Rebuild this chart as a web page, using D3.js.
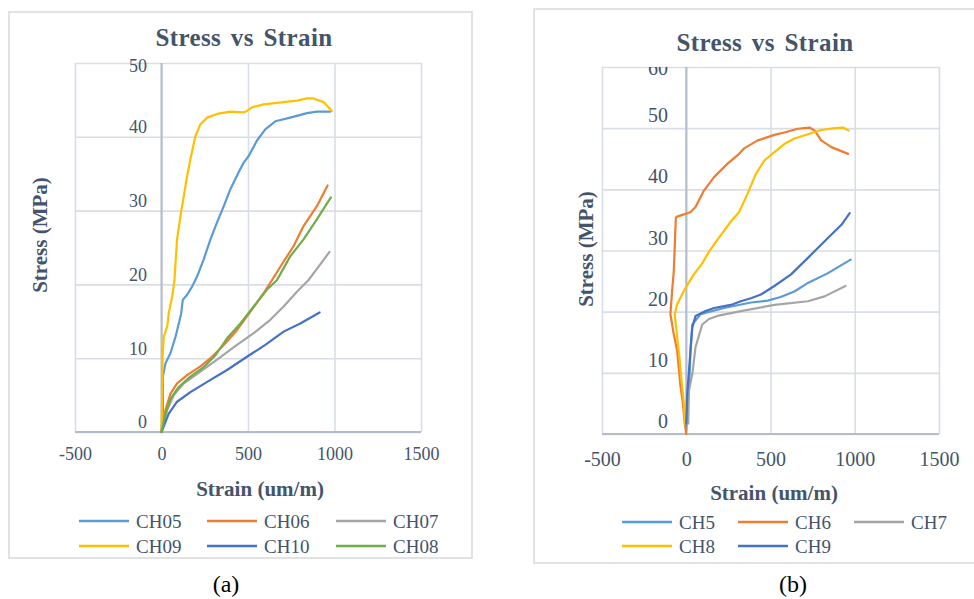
<!DOCTYPE html>
<html>
<head>
<meta charset="utf-8">
<script src="https://cdn.jsdelivr.net/npm/d3@7/dist/d3.min.js"></script>
<style>
  html, body { margin: 0; padding: 0; background: #ffffff; }
  svg { display: block; }
  svg text { font-family: "Liberation Serif", "DejaVu Serif", "Times New Roman", Times, serif; }
</style>
</head>
<body>
<svg id="fig" width="974" height="599"></svg>
<script>
// ---- shared axis ticks ----
const strainTicks = [-500, 0, 500, 1000, 1500];
const stressTicksA = [0, 10, 20, 30, 40, 50];
const stressTicksB = [0, 10, 20, 30, 40, 50, 60];

// ---- panel (a): channel readings [strain (um/m), stress (MPa)] ----
const seriesNamesA = ["CH05", "CH06", "CH07", "CH09", "CH10", "CH08"];
const ch05 = [[0,0],[8,3],[8,7.5],[23,9.3],[52,10.7],[81,12.9],[100,14.7],[114,16.1],[123,17.9],[148,18.6],[177,19.7],[206,21.1],[244,23.4],[283,26.1],[321,28.4],[360,30.6],[398,32.9],[446,35.2],[475,36.5],[504,37.4],[552,39.5],[600,41.0],[658,42.1],[744,42.6],[841,43.2],[898,43.4],[975,43.4]];
const ch06 = [[0,0],[23,3.0],[52,5.2],[90,6.6],[148,7.7],[225,8.9],[292,10.2],[360,11.8],[436,13.8],[514,16.3],[590,18.8],[639,20.6],[706,23.1],[764,25.2],[821,27.9],[898,30.6],[960,33.4]];
const ch07 = [[0,0],[33,3.0],[71,5.0],[129,6.6],[225,8.2],[321,9.8],[436,11.8],[533,13.4],[629,15.2],[706,17.0],[783,19.0],[850,20.6],[908,22.4],[971,24.4]];
const ch09 = [[0,0],[4,5],[6,10],[13,12.9],[33,14.3],[42,16.1],[62,18.4],[75,20.6],[81,22.9],[90,26.1],[110,29.3],[129,32.0],[148,34.7],[171,37.4],[196,40.1],[225,41.7],[264,42.6],[321,43.1],[398,43.4],[475,43.3],[494,43.5],[523,44.0],[590,44.4],[706,44.7],[783,44.9],[841,45.2],[879,45.2],[937,44.7],[985,43.5]];
const ch10 = [[0,0],[42,2.5],[90,4.1],[167,5.4],[264,6.8],[379,8.4],[494,10.2],[600,11.8],[706,13.6],[802,14.7],[914,16.2]];
const ch08 = [[0,0],[23,2.5],[52,4.5],[100,6.1],[167,7.5],[244,8.8],[312,10.4],[379,12.7],[456,14.7],[533,17.0],[610,19.3],[668,20.6],[744,23.8],[821,26.1],[898,28.8],[979,31.8]];

// ---- panel (b): channel readings [strain (um/m), stress (MPa)] ----
const seriesNamesB = ["CH5", "CH6", "CH7", "CH8", "CH9"];
const ch5 = [[0,0.5],[5,3],[16,7.1],[26,14.2],[36,17.9],[85,19.6],[224,20.6],[384,21.5],[483,21.8],[560,22.4],[642,23.3],[722,24.7],[841,26.3],[976,28.5]];
const ch6 = [[0,0],[-10,2],[-20,5],[-35,8],[-45,11],[-54,13.6],[-74,16.3],[-94,19.6],[-84,23.4],[-74,26.6],[-68,30.9],[-62,35.2],[-58,35.5],[-14,35.9],[26,36.3],[55,37.1],[105,39.8],[165,42.0],[245,44.2],[314,45.8],[344,46.7],[424,48.0],[523,48.9],[582,49.3],[662,49.9],[732,50.1],[762,49.6],[801,48.0],[861,46.9],[961,45.8]];
const ch7 = [[12,1.7],[16,7.1],[36,9.8],[55,14.2],[95,17.9],[135,18.8],[185,19.3],[324,20.1],[523,21.1],[722,21.7],[821,22.5],[945,24.2]];
const ch8 = [[-8,1.7],[-14,5.0],[-24,7.7],[-34,10.4],[-40,12.5],[-54,15.8],[-68,19.6],[-54,21.2],[-34,22.3],[-4,23.9],[45,26.1],[95,27.9],[135,29.8],[205,32.5],[264,34.7],[314,36.3],[364,39.3],[413,42.5],[463,44.7],[523,46.1],[582,47.4],[642,48.3],[722,49.0],[801,49.7],[881,50.0],[931,50.1],[964,49.6]];
const ch9 = [[0,1.7],[6,6.6],[22,12.5],[36,17.4],[55,19.3],[115,20.1],[165,20.6],[264,21.1],[324,21.7],[384,22.2],[443,22.8],[523,24.2],[622,26.1],[722,28.8],[821,31.5],[921,34.2],[970,36.1]];

// Office-style palette
const colorsA = ["#5B9BD5", "#ED7D31", "#A5A5A5", "#FFC000", "#4472C4", "#70AD47"];
const colorsB = ["#5B9BD5", "#ED7D31", "#A5A5A5", "#FFC000", "#4472C4"];

const TEXT = "#44546A";
const GRID = "#D9DEE6";
const AXIS = "#B3BCCB";

const svg = d3.select("#fig");

function drawPanel(cfg) {
  const g = svg.append("g");

  // chart frame
  g.append("rect")
    .attr("x", cfg.frame[0]).attr("y", cfg.frame[1])
    .attr("width", cfg.frame[2]).attr("height", cfg.frame[3])
    .attr("fill", "#fff").attr("stroke", "#D9D9D9").attr("stroke-width", 1.5);

  const x = d3.scaleLinear().domain([-500, 1500]).range([cfg.left, cfg.right]);
  const y = d3.scaleLinear().domain([0, cfg.yMax]).range([cfg.bottom, cfg.top]);

  // gridlines
  g.append("g")
    .attr("transform", `translate(0,${cfg.bottom})`)
    .call(d3.axisBottom(x).tickValues(strainTicks).tickSize(-(cfg.bottom - cfg.top)).tickFormat(""))
    .call(s => s.select(".domain").remove())
    .selectAll("line").attr("stroke", GRID).attr("stroke-width", 1.6);
  g.append("g")
    .attr("transform", `translate(${cfg.left},0)`)
    .call(d3.axisLeft(y).tickValues(cfg.yTicks).tickSize(-(cfg.right - cfg.left)).tickFormat(""))
    .call(s => s.select(".domain").remove())
    .selectAll("line").attr("stroke", GRID).attr("stroke-width", 1.6);

  // axis lines crossing at the origin
  g.append("line")
    .attr("x1", x(0)).attr("x2", x(0)).attr("y1", y(cfg.yMax)).attr("y2", y(0))
    .attr("stroke", AXIS).attr("stroke-width", 2);
  g.append("line")
    .attr("x1", x(-500)).attr("x2", x(1500)).attr("y1", y(0)).attr("y2", y(0))
    .attr("stroke", AXIS).attr("stroke-width", 2);

  // x tick labels (plain hyphen for negatives)
  const xa = g.append("g")
    .attr("transform", `translate(0,${cfg.bottom})`)
    .call(d3.axisBottom(x).tickValues(strainTicks).tickSize(0).tickFormat(d => String(d)));
  xa.attr("font-family", null).attr("font-size", null);
  xa.select(".domain").remove();
  xa.selectAll("text")
    .attr("y", cfg.xLabelOffset).attr("dy", "0.35em")
    .attr("fill", TEXT).style("font-size", cfg.tickFont + "px");

  // y tick labels, sitting on the vertical zero axis
  const ya = g.append("g")
    .call(d3.axisLeft(y).tickValues(cfg.yTicks).tickSize(0).tickPadding(0).tickFormat(d => String(d)));
  ya.attr("font-family", null).attr("font-size", null);
  ya.select(".domain").remove();
  if (cfg.clipTop) {
    svg.append("clipPath").attr("id", cfg.id + "-clip")
      .append("rect").attr("x", cfg.left).attr("y", cfg.top)
      .attr("width", x(0) - cfg.left).attr("height", cfg.bottom - cfg.top + 20);
    ya.attr("clip-path", `url(#${cfg.id}-clip)`);
  }
  ya.selectAll(".tick").attr("transform", d =>
    `translate(${cfg.yLabelRight},${Math.max(y(d) - cfg.yLabelLift, cfg.top + cfg.topLabelDrop)})`);
  ya.selectAll(".tick text")
    .attr("x", 0).attr("dy", "0.35em")
    .attr("fill", TEXT).style("font-size", cfg.tickFont + "px");

  // data lines
  const line = d3.line().x(d => x(d[0])).y(d => y(d[1]));
  cfg.series.forEach((s, i) => {
    g.append("path")
      .datum(s)
      .attr("d", line)
      .attr("fill", "none")
      .attr("stroke", cfg.colors[i])
      .attr("stroke-width", 2.2)
      .attr("stroke-linejoin", "round")
      .attr("stroke-linecap", "round");
  });

  // titles
  g.append("text")
    .attr("x", cfg.title[0]).attr("y", cfg.title[1]).attr("dy", "0.35em")
    .attr("text-anchor", "middle").attr("fill", TEXT)
    .style("font-weight", "bold").style("font-size", "25px")
    .style("letter-spacing", "0.4px").style("word-spacing", "3px")
    .text("Stress vs Strain");
  g.append("text")
    .attr("transform", `translate(${cfg.yTitle[0]},${cfg.yTitle[1]}) rotate(-90)`)
    .attr("dy", "0.35em")
    .attr("text-anchor", "middle").attr("fill", TEXT)
    .style("font-weight", "bold").style("font-size", "21px")
    .text("Stress (MPa)");
  g.append("text")
    .attr("x", cfg.xTitle[0]).attr("y", cfg.xTitle[1]).attr("dy", "0.35em")
    .attr("text-anchor", "middle").attr("fill", TEXT)
    .style("font-weight", "bold").style("font-size", "21px")
    .text("Strain (um/m)");

  // legend
  cfg.names.forEach((name, i) => {
    const col = i % 3, row = Math.floor(i / 3);
    const ly = cfg.legendRows[row];
    const lx = cfg.legendCols[col];
    g.append("line")
      .attr("x1", lx).attr("x2", lx + 50).attr("y1", ly).attr("y2", ly)
      .attr("stroke", cfg.colors[i]).attr("stroke-width", 2.4);
    g.append("text")
      .attr("x", lx + cfg.legendTextGap).attr("y", ly).attr("dy", "0.35em")
      .attr("fill", TEXT).style("font-size", cfg.legendFont + "px")
      .text(name);
  });

  // panel caption
  svg.append("text")
    .attr("x", cfg.caption[0]).attr("y", cfg.caption[1]).attr("dy", "0.35em")
    .attr("text-anchor", "middle").attr("fill", "#000")
    .style("font-size", "24px")
    .text(cfg.captionText);
}

drawPanel({
  id: "pa",
  frame: [9, 12, 463, 546],
  left: 75, right: 421, top: 63, bottom: 432,
  yMax: 50, yTicks: stressTicksA,
  xLabelOffset: 22, yLabelRight: 147, yLabelLift: 10, topLabelDrop: 3,
  tickFont: 18, legendFont: 19, legendTextGap: 57,
  series: [ch05, ch06, ch07, ch09, ch10, ch08],
  names: seriesNamesA, colors: colorsA,
  title: [244, 37], yTitle: [40, 235], xTitle: [260, 489],
  legendRows: [521, 546], legendCols: [79, 207, 336],
  caption: [226, 584], captionText: "(a)",
  clipTop: false
});

drawPanel({
  id: "pb",
  frame: [534, 9, 460, 554],
  left: 602, right: 939, top: 67, bottom: 434,
  yMax: 60, yTicks: stressTicksB,
  xLabelOffset: 25, yLabelRight: 668, yLabelLift: 13, topLabelDrop: 1,
  tickFont: 20, legendFont: 19, legendTextGap: 57,
  series: [ch5, ch6, ch7, ch8, ch9],
  names: seriesNamesB, colors: colorsB,
  title: [765, 42], yTitle: [586, 249], xTitle: [774, 493],
  legendRows: [522, 546], legendCols: [622, 738, 854],
  caption: [793, 584], captionText: "(b)",
  clipTop: true
});
</script>
</body>
</html>
